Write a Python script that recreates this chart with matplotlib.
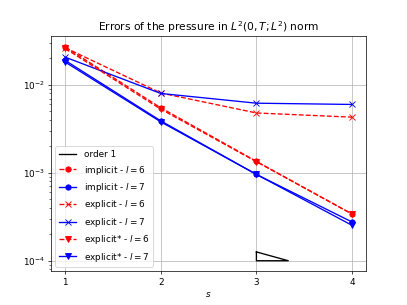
import numpy as np
import matplotlib.pyplot as plt

# Niveaux de raffinement
s = np.array([1, 2, 3, 4])

# Erreurs
imp6 = [0.0270, 0.0055, 0.00135, 0.00034]
imp7 = [0.0190, 0.0039, 0.00096, 0.000276]
exp6 = [0.0265, 0.0081, 0.0048, 0.0043]
exp7 = [0.0207, 0.0080, 0.0062, 0.0060]
exps6 = [0.0260, 0.0053, 0.00134, 0.00034]
exps7 = [0.0182, 0.0038, 0.00096, 0.000253]

# Triangle d'ordre 1
tri_s = [3, 3 + 1 / 3, 3, 3]
tri_e = [1e-4 * 2 ** (1 / 3), 1e-4, 1e-4, 1e-4 * 2 ** (1 / 3)]

plt.figure(figsize=(6.4, 4.8), dpi=63.6)
plt.plot(tri_s, tri_e, "k-", label="order 1")
plt.plot(s, imp6, "r--o", label="implicit - $l = 6$")
plt.plot(s, imp7, "b-o", label="implicit - $l = 7$")
plt.plot(s, exp6, "r--x", label="explicit - $l = 6$")
plt.plot(s, exp7, "b-x", label="explicit - $l = 7$")
plt.plot(s, exps6, "r--v", label="explicit* - $l = 6$")
plt.plot(s, exps7, "b-v", label="explicit* - $l = 7$")
plt.yscale("log")
plt.xticks(s)
plt.grid(True)
plt.legend(loc="lower left")
plt.title("Errors of the pressure in $L^2(0,T;L^2)$ norm")
plt.xlabel("$s$")
plt.savefig("out.png")
